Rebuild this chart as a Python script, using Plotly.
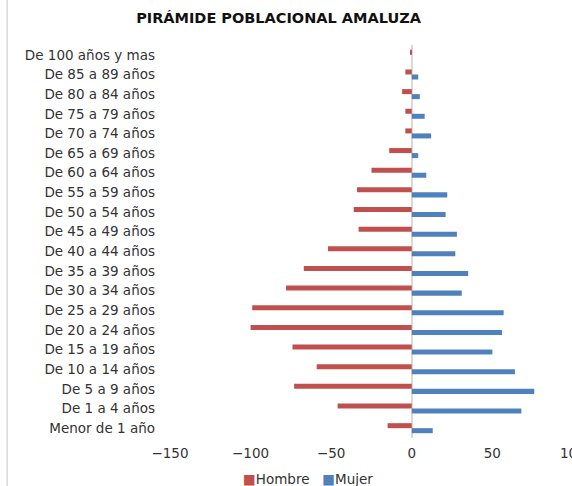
import plotly.graph_objects as go

grupos = ["De 100 años y mas", "De 85 a 89 años", "De 80 a 84 años", "De 75 a 79 años",
          "De 70 a 74 años", "De 65 a 69 años", "De 60 a 64 años", "De 55 a 59 años",
          "De 50 a 54 años", "De 45 a 49 años", "De 40 a 44 años", "De 35 a 39 años",
          "De 30 a 34 años", "De 25 a 29 años", "De 20 a 24 años", "De 15 a 19 años",
          "De 10 a 14 años", "De 5 a 9 años", "De 1 a 4 años", "Menor de 1 año"]
hombre = [-1, -4, -6, -4, -4, -14, -25, -34, -36, -33, -52, -67, -78, -99, -100, -74, -59, -73, -46, -15]
mujer = [0, 4, 5, 8, 12, 4, 9, 22, 21, 28, 27, 35, 31, 57, 56, 50, 64, 76, 68, 13]
x_ticks = [-150, -100, -50, 0, 50]
x_tick_cut = 100  # last tick, partly beyond the right edge in the reference
series_names = ["Hombre", "Mujer"]
series_colors = ["#C0504D", "#4F81BD"]

FONT = "DejaVu Sans"
X_MIN, X_MAX = -150, 99.4

fig = go.Figure()
for name, vals, col in zip(series_names, [hombre, mujer], series_colors):
    fig.add_trace(go.Bar(y=grupos, x=vals, orientation="h", name=name, showlegend=False,
                         marker=dict(color=col, line=dict(width=0))))

legend_text = "   ".join(
    f"<span style='color:{c}'>■</span>{n}" for n, c in zip(series_names, series_colors))

fig.update_layout(
    width=572, height=486,
    margin=dict(l=170, r=0, t=45, b=48, autoexpand=False),
    paper_bgcolor="white", plot_bgcolor="white",
    barmode="group", bargap=0.49, bargroupgap=0,
    font=dict(family=FONT, size=13.5, color="#333333"),
    title=dict(text="<b>PIRÁMIDE POBLACIONAL AMALUZA</b>", x=0.27, xref="paper",
               xanchor="center", y=0.963, yanchor="middle",
               font=dict(family=FONT, size=14.5, color="#111111")),
    xaxis=dict(range=[X_MIN, X_MAX], tickvals=x_ticks, showgrid=False, automargin=False,
               zeroline=True, zerolinecolor="#d9d9d9", zerolinewidth=2,
               showline=False, ticks="", ticklabelstandoff=5,
               tickfont=dict(size=13.5, color="#333333")),
    yaxis=dict(autorange="reversed", showgrid=False, showline=False, ticks="",
               automargin=False, ticklabelstandoff=14,
               tickfont=dict(size=13.5, color="#333333")),
    annotations=[
        dict(text=legend_text, xref="paper", yref="paper",
             x=(308 - 170) / 402, y=-(479 - 438) / 393,
             xanchor="center", yanchor="middle", showarrow=False,
             font=dict(family=FONT, size=13.5, color="#333333")),
        dict(text=str(x_tick_cut), xref="paper", yref="paper",
             x=(x_tick_cut - X_MIN) / (X_MAX - X_MIN), y=-(453 - 438) / 393,
             xanchor="center", yanchor="middle", showarrow=False,
             font=dict(family=FONT, size=13.5, color="#333333")),
    ],
    shapes=[dict(type="line", xref="paper", yref="paper", x0=-0.405, x1=-0.405,
                 y0=-0.15, y1=1.2, line=dict(color="#d9d9d9", width=1.5))],
)

fig.write_html("out.html", config={"displayModeBar": False},
               post_script="document.body.style.margin='0';")
